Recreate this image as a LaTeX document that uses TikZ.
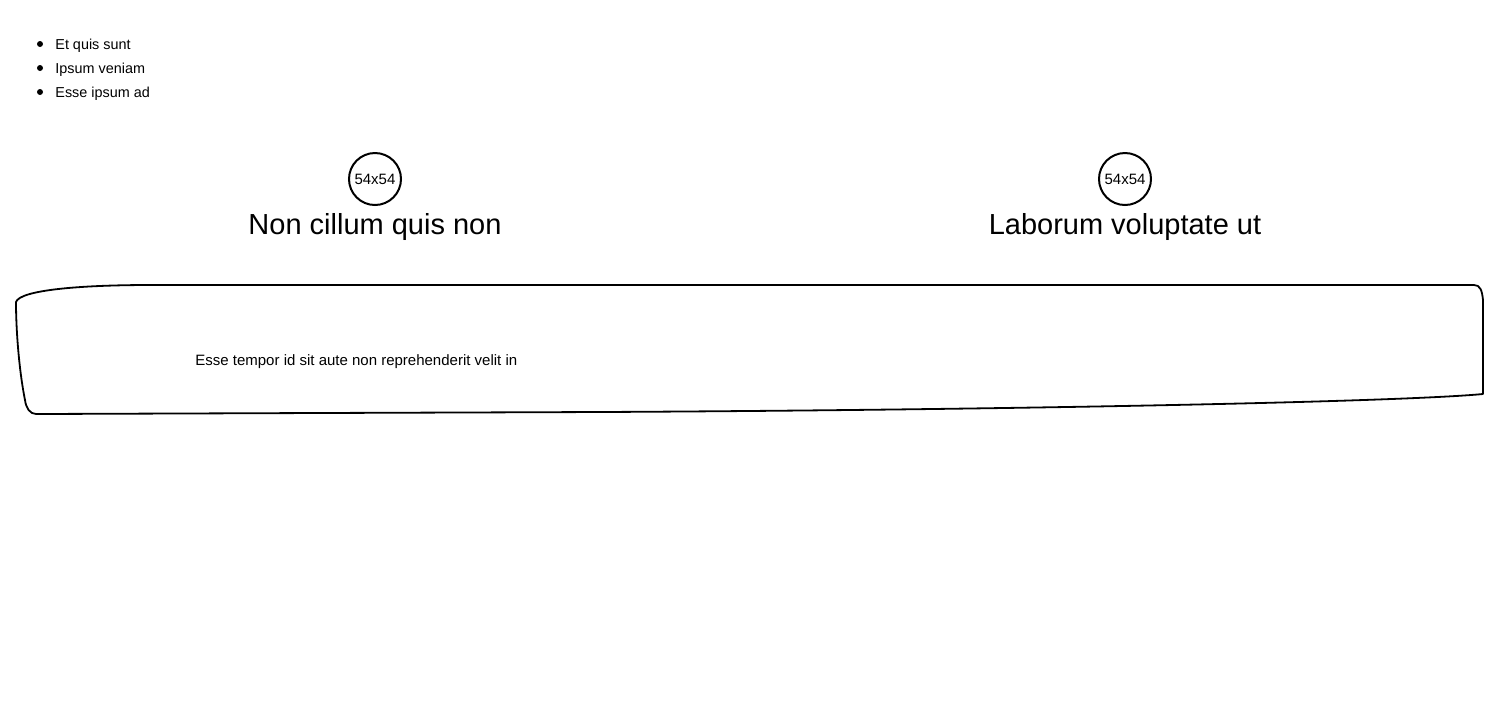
\documentclass[tikz,border=0pt]{standalone}
\usepackage{fontspec}
\setmainfont{Liberation Sans}
\usepackage{xcolor}
\usepackage{tikz}
\tikzset{
    every node/.style={font=\fontsize{7.2}{9}\selectfont, inner sep=0pt},
    badge/.style={draw, circle, line width=1pt, minimum size=26pt, font=\fontsize{7.5}{9}\selectfont},
    heading/.style={font=\fontsize{14.5}{17}\selectfont},
    boxtext/.style={font=\fontsize{7.5}{9}\selectfont, anchor=west}
}

\begin{document}
\begin{tikzpicture}[x=0.5pt, y=-0.5pt]
                \useasboundingbox (0,0) rectangle (1500,720);

                % Draw bullet list
                \foreach \i/\y/\t in {1/44/Et quis sunt, 2/68/Ipsum veniam, 3/92/Esse ipsum ad} {
                    \fill (40,\y) circle (3);
                    \node[anchor=west] (item\i) at (55,\y+2) {\t};
                }

                % Draw badges and headings
                \node[badge] (badgeL) at (375,179) {54x54};
                \node[heading] (headL) at (375,227) {Non cillum quis non};
                \node[badge] (badgeR) at (1125,179) {54x54};
                \node[heading] (headR) at (1125,227) {Laborum voluptate ut};

                % Draw sketchy box
                \draw[line width=0.9pt, line join=round]
                    (16,302) .. controls (20,290) and (80,285) .. (150,285)
                    -- (1474,285) .. controls (1480,285) and (1482,290) .. (1483,300)
                    -- (1483,394) .. controls (1400,402) and (1000,410) .. (600,412)
                    -- (36,414) .. controls (30,414) and (26,408) .. (25,400)
                    .. controls (19,370) and (16,330) .. cycle;
                \node[boxtext] (note) at (195,362) {Esse tempor id sit aute non reprehenderit velit in};
            \end{tikzpicture}
\end{document}
